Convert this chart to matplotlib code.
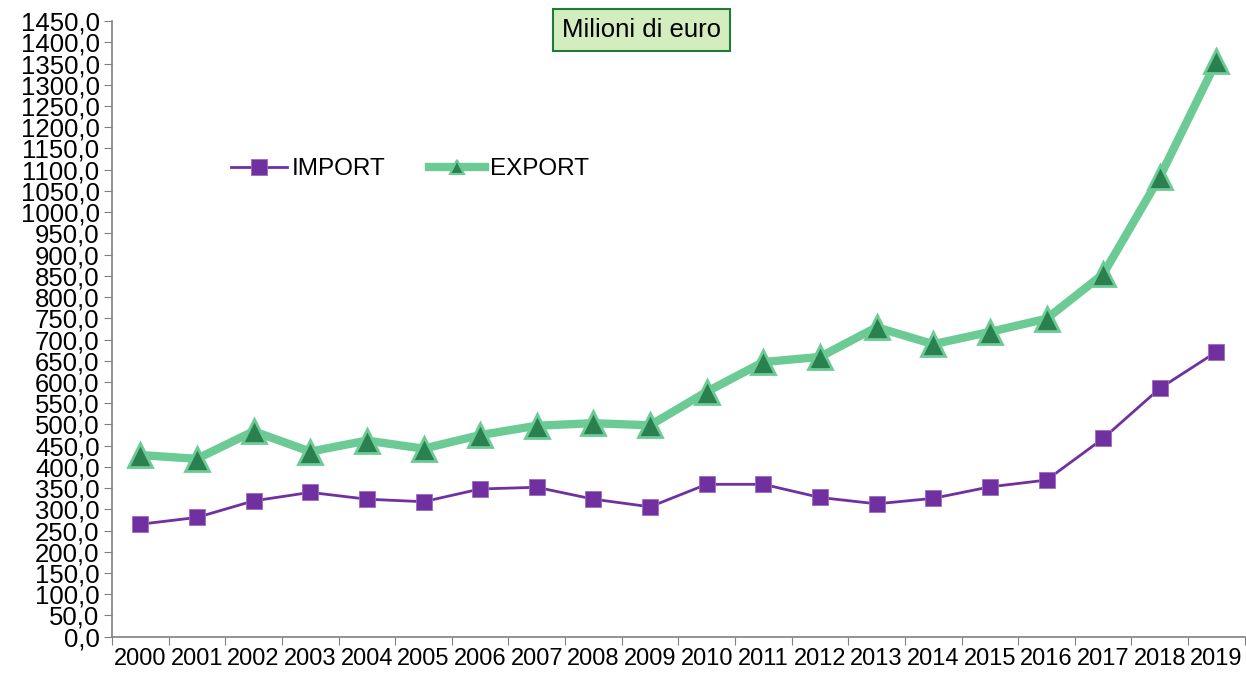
import matplotlib.pyplot as plt
import numpy as np

plt.rcParams['font.family'] = ['Liberation Sans', 'DejaVu Sans']

years = [str(y) for y in range(2000, 2020)]
import_vals = [265, 281, 320, 340, 324, 318, 348, 352, 324, 306,
               359, 359, 328, 313, 326, 353, 369, 467, 585, 671]
export_vals = [428, 419, 484, 436, 462, 443, 475, 497, 503, 498,
               577, 647, 659, 729, 689, 718, 749, 854, 1083, 1355]

purple = '#7030A0'
light_green = '#6CCB94'
dark_green = '#2B8050'

fig = plt.figure(figsize=(12.46, 6.75), dpi=100)
ax = fig.add_axes([0.0899, 0.0567, 0.9091, 0.912])

x = np.arange(len(years)) + 0.5
ax.plot(x, import_vals, color=purple, lw=2.0, marker='s', ms=12,
        markerfacecolor=purple, markeredgecolor='#9b6cc0', markeredgewidth=0.6,
        label='IMPORT', zorder=3)
ax.plot(x, export_vals, color=light_green, lw=6, marker='^', ms=17,
        markerfacecolor=dark_green, markeredgecolor=light_green, markeredgewidth=2,
        label='EXPORT', zorder=4)

ax.set_xlim(0, len(years))
ax.set_ylim(0, 1450)
ax.set_yticks(np.arange(0, 1451, 50))
ax.set_yticklabels([f'{v:.1f}'.replace('.', ',') for v in np.arange(0, 1451, 50)])
ax.set_xticks(np.arange(0, len(years) + 1))
ax.set_xticklabels([])
ax.set_xticks(x, minor=True)
ax.set_xticklabels(years, minor=True)
ax.tick_params(axis='x', which='minor', length=0, pad=8, labelsize=17)
ax.tick_params(axis='x', which='major', length=6, color='#808080')
ax.tick_params(axis='y', length=6, color='#808080', labelsize=18.5, pad=3)

for s in ['top', 'right']:
    ax.spines[s].set_visible(False)
for s in ['left', 'bottom']:
    ax.spines[s].set_color('#808080')
    ax.spines[s].set_linewidth(1.2)

leg = fig.legend(loc='center left', bbox_to_anchor=(0.1677, 0.749), ncol=2,
                 frameon=False, fontsize=17.5, handlelength=2.3, columnspacing=1.8,
                 handletextpad=0.2)
leg.legend_handles[0].set_markersize(11)
leg.legend_handles[1].set_markersize(10)
leg.legend_handles[1].set_markeredgewidth(1.5)

fig.text(0.5145, 0.955, 'Milioni di euro', fontsize=18.5, ha='center', va='center',
         bbox=dict(boxstyle='square,pad=0.35', facecolor='#D4EDBF', edgecolor='#1E7B3A', lw=1.5))

fig.savefig('out.png', dpi=100)
